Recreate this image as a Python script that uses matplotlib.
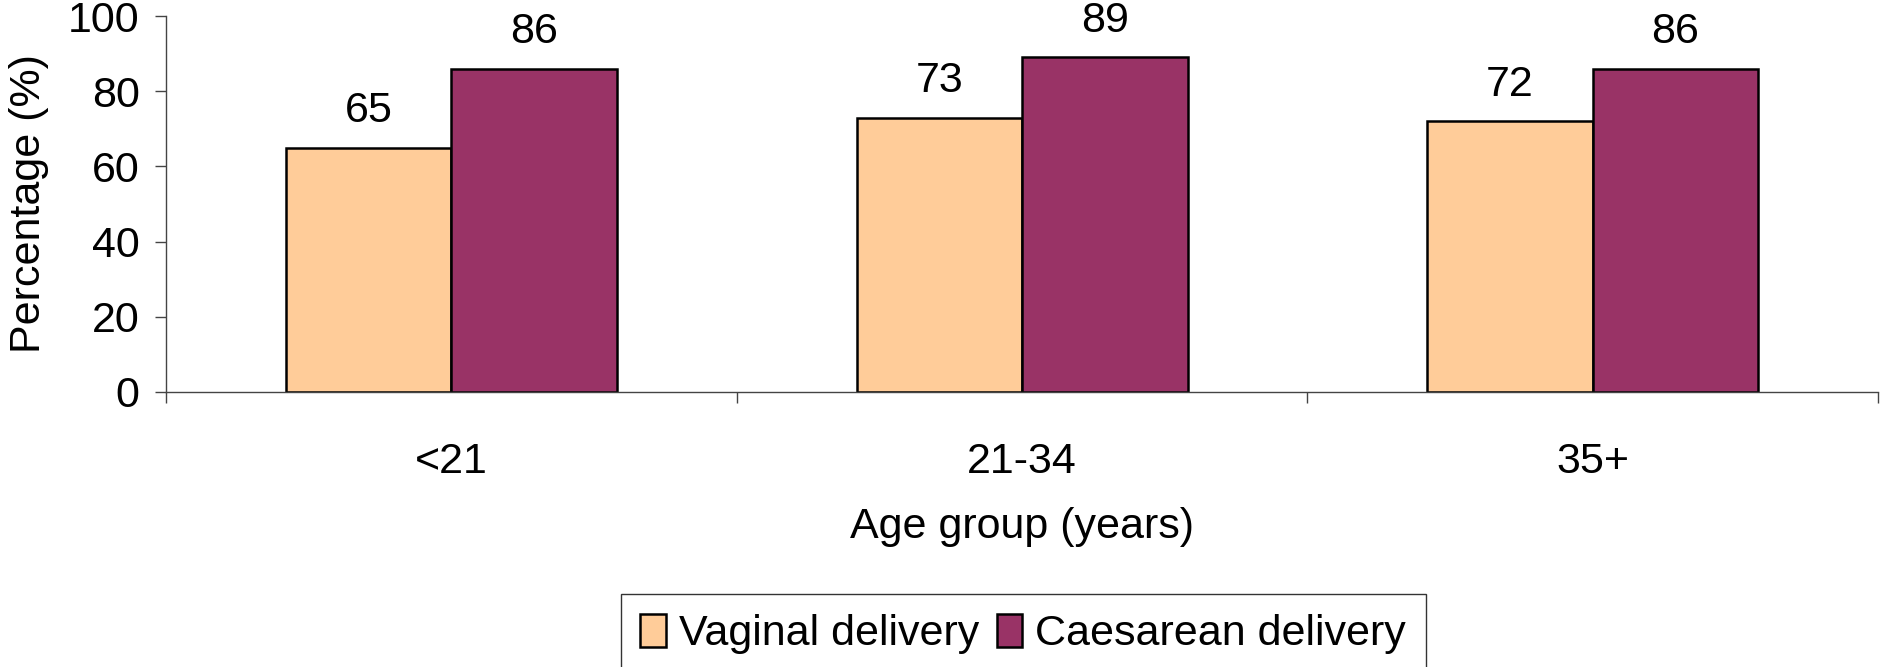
import matplotlib
matplotlib.use("Agg")
from matplotlib import pyplot as plt
import numpy as np

plt.rcParams['font.family'] = ['Liberation Sans', 'DejaVu Sans']

groups = ['<21', '21-34', '35+']
vaginal = [65, 73, 72]
caesarean = [86, 89, 86]
series_names = ['Vaginal delivery', 'Caesarean delivery']
colors = ['#FFCC99', '#993366']

fs = 31
fig = plt.figure(figsize=(18.81, 6.67), dpi=100)
ax = fig.add_axes([0.0883, 0.4123, 0.9101, 0.5637])

x = np.arange(len(groups))
w = 0.29
b1 = ax.bar(x - w/2, vaginal, w, color=colors[0], edgecolor='black', linewidth=1.8, label=series_names[0])
b2 = ax.bar(x + w/2, caesarean, w, color=colors[1], edgecolor='black', linewidth=1.8, label=series_names[1])

for bars in (b1, b2):
    for r in bars:
        ax.annotate(f'{r.get_height():.0f}', (r.get_x() + r.get_width()/2, r.get_height()),
                    xytext=(0, 12), textcoords='offset points', ha='center', va='bottom',
                    fontsize=fs, clip_on=False)

ax.set_xlim(-0.5, 2.5)
ax.set_ylim(0, 100)
ax.set_yticks(range(0, 101, 20))
ax.tick_params(axis='y', labelsize=fs, length=8, width=1, color='#444444', pad=11)
ax.set_xticks(x)
ax.set_xticklabels(groups)
ax.set_xticks(np.arange(-0.5, 2.6, 1), minor=True)
ax.tick_params(axis='x', which='major', length=0, labelsize=fs, pad=36)
ax.tick_params(axis='x', which='minor', length=8, width=1, color='#444444')

for s in ['top', 'right']:
    ax.spines[s].set_visible(False)
for s in ['left', 'bottom']:
    ax.spines[s].set_color('#444444')
    ax.spines[s].set_linewidth(1)

ax.set_xlabel('Age group (years)', fontsize=fs, labelpad=18)
ax.set_ylabel('Percentage (%)', fontsize=fs, labelpad=14)

leg = fig.legend(loc='upper center', bbox_to_anchor=(0.544, 0.109), ncol=2, fontsize=fs,
                 frameon=True, fancybox=False, edgecolor='#333333', framealpha=1,
                 handlelength=0.6, handleheight=0.8, handletextpad=0.3, columnspacing=0.4,
                 borderpad=0.45, borderaxespad=0)
leg.get_frame().set_linewidth(1)

fig.savefig('out.png', dpi=100)
